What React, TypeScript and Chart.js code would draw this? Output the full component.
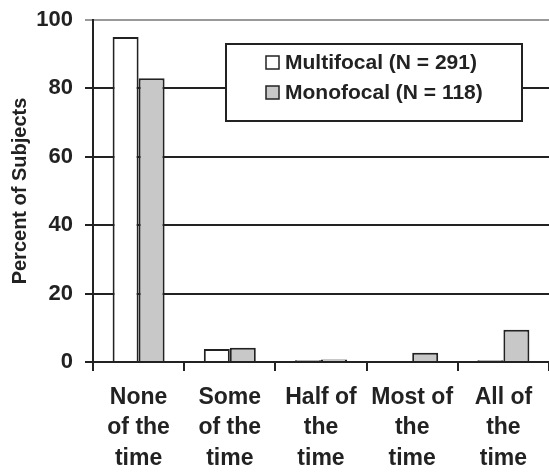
import React, { useEffect, useRef } from "react";
import { Chart, registerables } from "chart.js";

Chart.register(...registerables);

const categories: string[][] = [
  ["None", "of the", "time"],
  ["Some", "of the", "time"],
  ["Half of", "the", "time"],
  ["Most of", "the", "time"],
  ["All of", "the", "time"],
];
const multifocal = [95, 3.8, 0.5, 0, 0.5];
const monofocal = [83, 4.2, 0.7, 2.7, 9.4];
const seriesNames = ["Multifocal (N = 291)", "Monofocal (N = 118)"];
const yTicks = [0, 20, 40, 60, 80, 100];

const FONT = "'Liberation Sans', Arial, Helvetica, sans-serif";

const legendBox = {
  id: "legendBox",
  afterDraw(chart: any) {
    const ctx = chart.ctx;
    const x0 = 226, y0 = 44, w = 296, h = 77;
    ctx.save();
    ctx.fillStyle = "#ffffff";
    ctx.fillRect(x0, y0, w, h);
    ctx.strokeStyle = "#222222";
    ctx.lineWidth = 2;
    ctx.strokeRect(x0, y0, w, h);
    ctx.font = `bold 21px ${FONT}`;
    ctx.textBaseline = "middle";
    ctx.textAlign = "left";
    const fills = ["#ffffff", "#c8c8c8"];
    seriesNames.forEach((name, i) => {
      const cy = 62 + i * 30;
      ctx.fillStyle = fills[i];
      ctx.fillRect(266, cy - 6, 13, 13);
      ctx.strokeStyle = "#222222";
      ctx.lineWidth = 1.5;
      ctx.strokeRect(266, cy - 6, 13, 13);
      ctx.fillStyle = "#222222";
      ctx.fillText(name, 285, cy + 1);
    });
    ctx.restore();
  },
};

export default function App() {
  const ref = useRef<HTMLCanvasElement | null>(null);
  useEffect(() => {
    document.body.style.margin = "0";
    const chart = new Chart(ref.current as HTMLCanvasElement, {
      type: "bar",
      data: {
        labels: categories,
        datasets: [
          {
            label: seriesNames[0],
            data: multifocal,
            backgroundColor: "#ffffff",
            borderColor: "#222222",
            borderWidth: 2,
            categoryPercentage: 0.57,
            barPercentage: 1,
          },
          {
            label: seriesNames[1],
            data: monofocal,
            backgroundColor: "#c8c8c8",
            borderColor: "#222222",
            borderWidth: 2,
            categoryPercentage: 0.57,
            barPercentage: 1,
          },
        ],
      },
      plugins: [legendBox],
      options: {
        animation: false,
        responsive: false,
        layout: { padding: { top: 20, right: 0, left: 0, bottom: 0 } },
        plugins: {
          legend: { display: false },
          tooltip: { enabled: false },
        },
        scales: {
          x: {
            afterFit: (axis: any) => {
              axis.height = 110;
              axis.paddingLeft = 0;
              axis.paddingRight = 0;
            },
            grid: {
              offset: true,
              drawOnChartArea: false,
              color: "#222222",
              lineWidth: 2,
              tickLength: 9,
            },
            border: { color: "#222222", width: 2 },
            ticks: {
              color: "#222222",
              font: { family: FONT, size: 23, weight: "bold", lineHeight: 1.33 },
              maxRotation: 0,
              autoSkip: false,
              padding: 11,
            },
          },
          y: {
            min: 0,
            max: 100,
            afterFit: (axis: any) => {
              axis.width = 93;
              axis.paddingTop = 0;
              axis.paddingBottom = 0;
            },
            afterBuildTicks: (axis: any) => {
              axis.ticks = yTicks.map((v) => ({ value: v }));
            },
            grid: {
              color: (c: any) => (c.tick && c.tick.value === 100 ? "#999999" : "#222222"),
              lineWidth: 2,
              tickLength: 8,
            },
            border: { color: "#222222", width: 2 },
            ticks: {
              color: "#222222",
              font: { family: FONT, size: 22, weight: "bold" },
              padding: 12,
            },
            title: {
              display: true,
              text: "Percent of Subjects",
              color: "#222222",
              font: { family: FONT, size: 20, weight: "bold" },
              padding: { top: 8, bottom: 4 },
            },
          },
        },
      },
    });
    return () => chart.destroy();
  }, []);
  return (
    <div style={{ width: 549, height: 472 }}>
      <canvas ref={ref} width={549} height={472} style={{ display: "block" }} />
    </div>
  );
}
